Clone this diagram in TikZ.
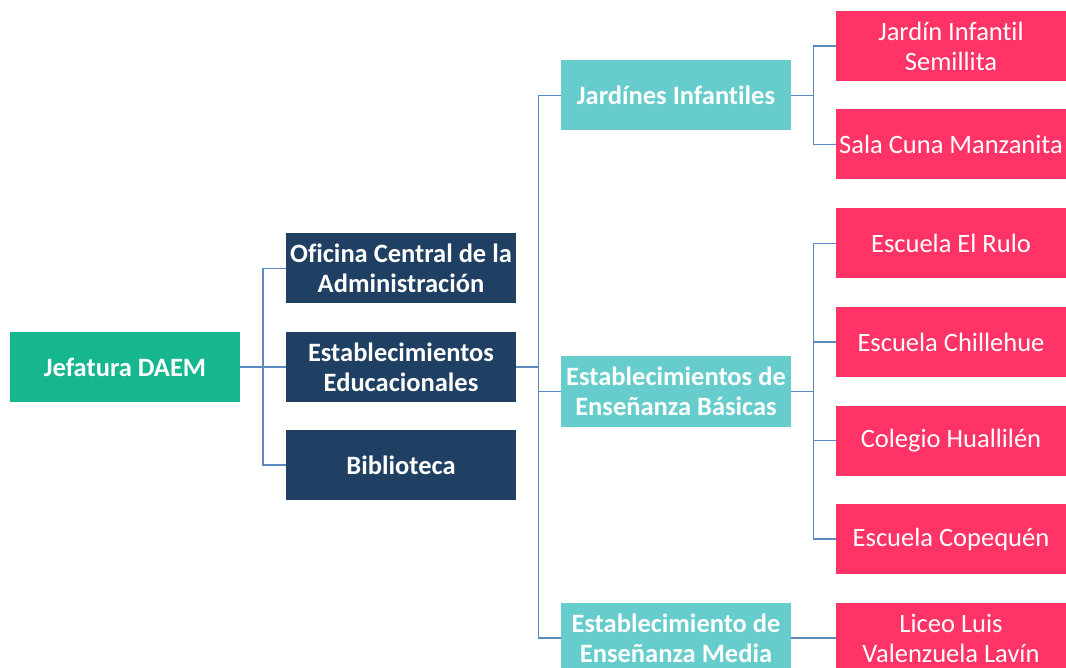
\documentclass[tikz,border=0pt]{standalone}
\usepackage{fontspec}
\setmainfont[Ligatures=NoCommon]{Carlito}
\usepackage{xcolor}
\usepackage{tikz}
\usetikzlibrary{positioning, calc}
\definecolor{daemgreen}{RGB}{22,182,142}
\definecolor{navyblue}{RGB}{31,63,99}
\definecolor{aquateal}{RGB}{102,205,204}
\definecolor{rosered}{RGB}{255,51,102}
\definecolor{linkblue}{RGB}{90,138,192}

\tikzset{
    unitbox/.style={rectangle, minimum width=230pt, minimum height=70pt, inner sep=1pt,
                    text=white, align=center, font=\fontsize{26.5}{30}\selectfont},
    headbox/.style={unitbox, fill=daemgreen, font=\fontsize{26.5}{30}\selectfont\bfseries},
    deptbox/.style={unitbox, fill=navyblue, font=\fontsize{26.5}{30}\selectfont\bfseries},
    levelbox/.style={unitbox, fill=aquateal, font=\fontsize{26.5}{30}\selectfont\bfseries},
    schoolbox/.style={unitbox, fill=rosered},
    link/.style={draw=linkblue, line width=1.5pt}
}

\begin{document}
\begin{tikzpicture}[x=1pt, y=-1pt]
    \useasboundingbox (0,0) rectangle (1066,668);

    % root
    \node[headbox] (daem) at (125,367) {Jefatura DAEM};

    % second column
    \node[deptbox] (ofic)  at (401,268.5) {Oficina Central de la\\Administración};
    \node[deptbox] (estab) at (401,367)   {Establecimientos\\Educacionales};
    \node[deptbox] (bibl)  at (401,465)   {Biblioteca};

    % third column
    \node[levelbox] (jard)  at (676,95.5)  {Jardínes Infantiles};
    \node[levelbox] (basic) at (676,391.5) {Establecimientos de\\Enseñanza Básicas};
    \node[levelbox] (media) at (676,638)   {Establecimiento de\\Enseñanza Media};

    % schools
    \node[schoolbox] (semil)  at (951,46)    {Jardín Infantil\\Semillita};
    \node[schoolbox] (manz)   at (951,144.5) {Sala Cuna Manzanita};
    \node[schoolbox] (rulo)   at (951,243.5) {Escuela El Rulo};
    \node[schoolbox] (chill)  at (951,342)   {Escuela Chillehue};
    \node[schoolbox] (huall)  at (951,440.5) {Colegio Huallilén};
    \node[schoolbox] (copeq)  at (951,539)   {Escuela Copequén};
    \node[schoolbox] (liceo)  at (951,638)   {Liceo Luis\\Valenzuela Lavín};

    % connectors
    \coordinate (fork1) at ($(daem.east)!0.5!(estab.west)$);
    \foreach \c in {ofic, estab, bibl}
        \draw[link] (daem.east) -- (fork1) |- (\c.west);

    \coordinate (fork2) at ($(estab.east)!0.5!(basic.west |- estab.east)$);
    \foreach \c in {jard, basic, media}
        \draw[link] (estab.east) -- (fork2) |- (\c.west);

    \coordinate (fork3) at ($(jard.east)!0.5!(semil.west |- jard.east)$);
    \foreach \c in {semil, manz}
        \draw[link] (jard.east) -- (fork3) |- (\c.west);

    \coordinate (fork4) at ($(basic.east)!0.5!(rulo.west |- basic.east)$);
    \foreach \c in {rulo, chill, huall, copeq}
        \draw[link] (basic.east) -- (fork4) |- (\c.west);

    \draw[link] (media.east) -- (liceo.west);
\end{tikzpicture}
\end{document}
